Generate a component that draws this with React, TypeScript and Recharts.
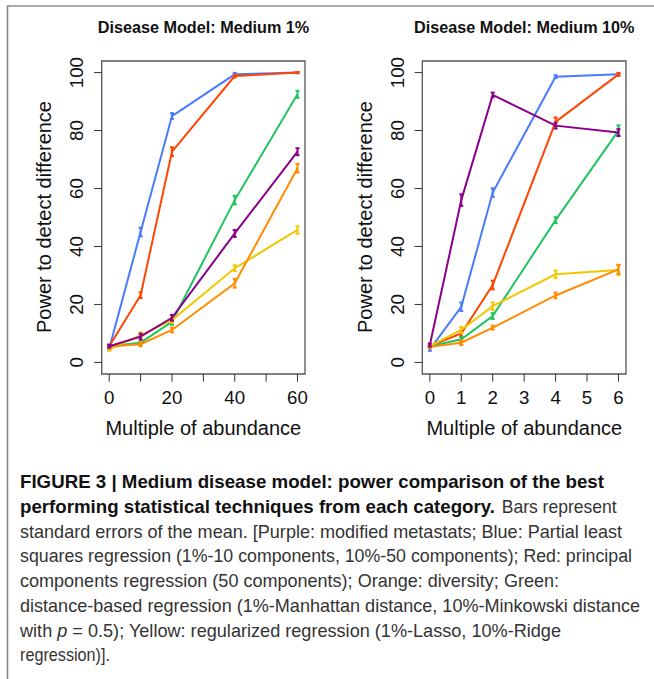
import { LineChart, Line, XAxis, YAxis, ErrorBar, ReferenceArea } from 'recharts';

// x positions (multiple of abundance)
const xs1 = [0, 10, 20, 40, 60];
const xs10 = [0, 1, 2, 4, 6];
const xTicks1 = [0, 10, 20, 30, 40, 50, 60];
const xTicks10 = [0, 1, 2, 3, 4, 5, 6];
const yTicks = [0, 20, 40, 60, 80, 100];

// Medium 1%
const blue1 = [4.8, 45, 85, 99.4, 100];
const red1 = [5.6, 23.2, 72.7, 98.8, 100];
const green1 = [5.6, 6.8, 14, 56, 92.5];
const yellow1 = [4.5, 9.4, 14.6, 32.5, 45.7];
const orange1 = [5.5, 6.3, 11.2, 27.3, 67];
const purple1 = [5.6, 8.9, 15.4, 44.5, 72.7];
const blue1Err = [0.5, 1.5, 1, 0.5, 0.2];
const red1Err = [0.5, 1, 1.5, 0.5, 0.2];
const green1Err = [0.5, 0.5, 1, 1.5, 1.2];
const yellow1Err = [0.5, 1, 1, 1, 1.3];
const orange1Err = [0.5, 0.7, 0.8, 1.5, 1.5];
const purple1Err = [0.5, 1, 1, 1.2, 1.2];

// Medium 10%
const blue10 = [4.5, 19.2, 58.6, 98.6, 99.4];
const red10 = [5.6, 10, 26.7, 83, 99.4];
const green10 = [5.6, 8, 16, 49.1, 80];
const yellow10 = [5.6, 11.2, 19.4, 30.4, 31.9];
const orange10 = [5.4, 6.8, 12, 23.1, 32.1];
const purple10 = [6, 56, 92.3, 81.7, 79.3];
const blue10Err = [0.5, 1.5, 1.5, 0.5, 0.3];
const red10Err = [0.5, 1, 1.5, 1.5, 0.5];
const green10Err = [0.5, 0.7, 1, 1, 1.8];
const yellow10Err = [0.5, 1, 1.3, 1.3, 1.8];
const orange10Err = [0.5, 0.8, 0.7, 1, 1.5];
const purple10Err = [0.5, 2, 0.8, 1, 1.2];

const series = ['blue', 'red', 'green', 'yellow', 'orange', 'purple'];
const colors: Record<string, string> = {
  blue: '#4a7bff',
  red: '#ff4500',
  green: '#1fc45e',
  yellow: '#f2c700',
  orange: '#ff8c00',
  purple: '#8b008b',
};

const captionLines = [
  'FIGURE 3 | Medium disease model: power comparison of the best',
  'performing statistical techniques from each category.',
  ' Bars represent',
  'standard errors of the mean. [Purple: modified metastats; Blue: Partial least',
  'squares regression (1%-10 components, 10%-50 components); Red: principal',
  'components regression (50 components); Orange: diversity; Green:',
  'distance-based regression (1%-Manhattan distance, 10%-Minkowski distance',
  'regression)].',
];

function buildRows(xs: number[], vals: number[][], errs: number[][]) {
  return xs.map((x, i) => {
    const row: Record<string, number> = { x };
    series.forEach((s, k) => {
      row[s] = vals[k][i];
      row[s + 'Err'] = errs[k][i];
    });
    return row;
  });
}

const rows1 = buildRows(
  xs1,
  [blue1, red1, green1, yellow1, orange1, purple1],
  [blue1Err, red1Err, green1Err, yellow1Err, orange1Err, purple1Err]
);
const rows10 = buildRows(
  xs10,
  [blue10, red10, green10, yellow10, orange10, purple10],
  [blue10Err, red10Err, green10Err, yellow10Err, orange10Err, purple10Err]
);

const FONT = "'Liberation Sans', Arial, Helvetica, sans-serif";

function YTick(props: any) {
  const { x, y, payload } = props;
  return (
    <text
      x={x}
      y={y}
      transform={`rotate(-90 ${x} ${y})`}
      textAnchor="middle"
      fontSize={18.7}
      fontFamily={FONT}
      fill="#111"
    >
      {payload.value}
    </text>
  );
}

type PanelProps = {
  width: number;
  yAxisWidth: number;
  rightMargin: number;
  rows: Record<string, number>[];
  xDomain: [number, number];
  xTicks: number[];
  xFmt: (v: number) => string;
};

function Panel({ width, yAxisWidth, rightMargin, rows, xDomain, xTicks, xFmt }: PanelProps) {
  return (
    <LineChart
      width={width}
      height={410}
      data={rows}
      margin={{ top: 61, right: rightMargin, bottom: 0, left: 0 }}
    >
      <ReferenceArea
        x1={xDomain[0]}
        x2={xDomain[1]}
        y1={-4}
        y2={104}
        fill="none"
        stroke="#555"
        strokeWidth={1.3}
        ifOverflow="visible"
      />
      <XAxis
        dataKey="x"
        type="number"
        domain={xDomain}
        ticks={xTicks}
        interval={0}
        tickFormatter={xFmt}
        axisLine={false}
        tickSize={7.7}
        tickMargin={9.5}
        height={36}
        tickLine={{ stroke: '#333', strokeWidth: 1 }}
        tick={{ fontSize: 18.7, fill: '#111', fontFamily: FONT }}
        allowDataOverflow
      />
      <YAxis
        type="number"
        domain={[-4, 104]}
        ticks={yTicks}
        interval={0}
        width={yAxisWidth}
        axisLine={false}
        tickSize={7.7}
        tickMargin={10.7}
        tickLine={{ stroke: '#333', strokeWidth: 1 }}
        tick={<YTick />}
        allowDataOverflow
      />
      {series.map((s) => (
        <Line
          key={s}
          dataKey={s}
          type="linear"
          stroke={colors[s]}
          strokeWidth={2}
          dot={false}
          activeDot={false}
          isAnimationActive={false}
        >
          <ErrorBar
            dataKey={s + 'Err'}
            direction="y"
            width={2}
            stroke={colors[s]}
            strokeWidth={2}
            isAnimationActive={false}
          />
        </Line>
      ))}
    </LineChart>
  );
}

export default function App() {
  const base = 488.3;
  const step = 24.7;
  return (
    <div
      style={{
        position: 'absolute',
        left: 0,
        top: 0,
        width: 654,
        height: 679,
        background: '#fff',
        overflow: 'hidden',
      }}
    >
      <div style={{ position: 'absolute', left: 0, top: 0 }}>
        <Panel
          width={327}
          yAxisWidth={101.7}
          rightMargin={22}
          rows={rows1}
          xDomain={[-2.4, 62.4]}
          xTicks={xTicks1}
          xFmt={(v) => (v % 20 === 0 ? String(v) : '')}
        />
      </div>
      <div style={{ position: 'absolute', left: 320, top: 0 }}>
        <Panel
          width={334}
          yAxisWidth={102.3}
          rightMargin={28}
          rows={rows10}
          xDomain={[-0.24, 6.24]}
          xTicks={xTicks10}
          xFmt={(v) => String(v)}
        />
      </div>
      <svg
        width={654}
        height={679}
        style={{ position: 'absolute', left: 0, top: 0, pointerEvents: 'none' }}
        fontFamily={FONT}
      >
        {/* frame */}
        <line x1={7} y1={6} x2={654} y2={6} stroke="#555" strokeWidth={1.2} />
        <line x1={7.5} y1={5.5} x2={7.5} y2={679} stroke="#888" strokeWidth={1.6} />

        {/* panel titles */}
        <text x={203.5} y={33} textAnchor="middle" fontSize={16.2} fontWeight="bold" fill="#111">
          Disease Model: Medium 1%
        </text>
        <text x={524.3} y={33} textAnchor="middle" fontSize={16.2} fontWeight="bold" fill="#111">
          Disease Model: Medium 10%
        </text>

        {/* axis titles */}
        <text x={203.3} y={435} textAnchor="middle" fontSize={20} fill="#111">
          Multiple of abundance
        </text>
        <text x={524.3} y={435} textAnchor="middle" fontSize={20} fill="#111">
          Multiple of abundance
        </text>
        <text
          x={50.7}
          y={217}
          transform="rotate(-90 50.7 217)"
          textAnchor="middle"
          fontSize={20}
          fill="#111"
        >
          Power to detect difference
        </text>
        <text
          x={371.7}
          y={217}
          transform="rotate(-90 371.7 217)"
          textAnchor="middle"
          fontSize={20}
          fill="#111"
        >
          Power to detect difference
        </text>

        {/* caption */}
        <g fontSize={18.5}>
          <text x={20} y={base} fontWeight="bold" fill="#111" textLength={584} lengthAdjust="spacingAndGlyphs">
            {captionLines[0]}
          </text>
          <text x={20} y={base + step} fontWeight="bold" fill="#111" textLength={475} lengthAdjust="spacingAndGlyphs">
            {captionLines[1]}
          </text>
          <text x={501.7} y={base + step} fill="#333" textLength={115} lengthAdjust="spacingAndGlyphs">
            {captionLines[2].trim()}
          </text>
          <text x={20} y={base + step * 2} fill="#333" textLength={602} lengthAdjust="spacingAndGlyphs">
            {captionLines[3]}
          </text>
          <text x={20} y={base + step * 3} fill="#333" fontSize={17.6} textLength={612} lengthAdjust="spacingAndGlyphs">
            {captionLines[4]}
          </text>
          <text x={20} y={base + step * 4} fill="#333" textLength={539} lengthAdjust="spacingAndGlyphs">
            {captionLines[5]}
          </text>
          <text x={20} y={base + step * 5} fill="#333" textLength={620} lengthAdjust="spacingAndGlyphs">
            {captionLines[6]}
          </text>
          <text x={20} y={base + step * 6} fill="#333" textLength={541} lengthAdjust="spacingAndGlyphs">
            with <tspan fontStyle="italic">p</tspan> = 0.5); Yellow: regularized regression (1%-Lasso, 10%-Ridge
          </text>
          <text x={20} y={base + step * 7} fill="#333" textLength={90} lengthAdjust="spacingAndGlyphs">
            {captionLines[7]}
          </text>
        </g>
      </svg>
    </div>
  );
}
